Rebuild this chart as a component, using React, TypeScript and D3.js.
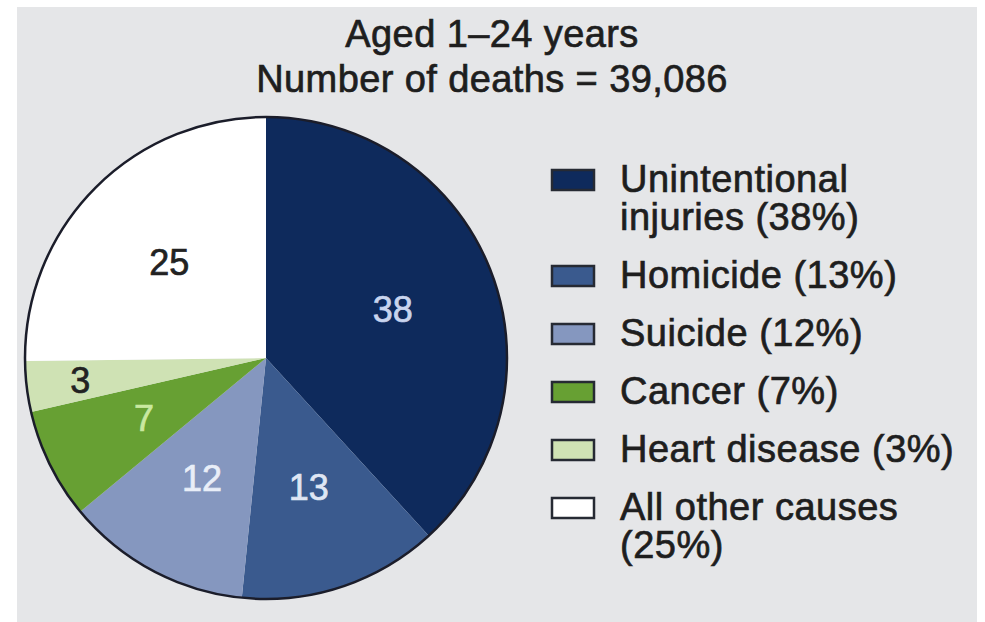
import React from 'react';
import * as d3 from 'd3';

const titleLines = ['Aged 1–24 years', 'Number of deaths = 39,086'];

const causes = ['Unintentional injuries', 'Homicide', 'Suicide', 'Cancer', 'Heart disease', 'All other causes'];
// shares of the circle
const shares = [38.2, 13.4, 12.4, 7.4, 3.4, 25.2];
// percentages as printed on the chart
const printed = [38, 13, 12, 7, 3, 25];
// legend wording, broken where the reference breaks it
const legendLines = [
  ['Unintentional', 'injuries (38%)'],
  ['Homicide (13%)'],
  ['Suicide (12%)'],
  ['Cancer (7%)'],
  ['Heart disease (3%)'],
  ['All other causes', '(25%)'],
];

const sliceColors = ['#0e2a5c', '#3a5a8e', '#8597bf', '#67a033', '#cfe2b4', '#ffffff'];
const labelColors = ['#c8d4ee', '#dfe6f4', '#e9eef8', '#c9e8a0', '#222222', '#222222'];

export default function App() {
  const width = 985;
  const height = 622;
  const cx = 266;
  const cy = 358;
  const radius = 241;
  const font = '"Liberation Sans", Arial, Helvetica, sans-serif';

  const color = d3.scaleOrdinal<string, string>().domain(causes).range(sliceColors);
  const labelColor = d3.scaleOrdinal<string, string>().domain(causes).range(labelColors);

  const rows = causes.map((cause, i) => ({ cause, share: shares[i], label: printed[i], i }));

  const pie = d3
    .pie<typeof rows[number]>()
    .sort(null)
    .value((d) => d.share);

  const arcs = pie(rows);

  const arc = d3.arc<d3.PieArcDatum<typeof rows[number]>>().innerRadius(0).outerRadius(radius);
  const labelArc = d3.arc<d3.PieArcDatum<typeof rows[number]>>().innerRadius(136 * 2).outerRadius(0);
  const smallLabelArc = d3.arc<d3.PieArcDatum<typeof rows[number]>>().innerRadius(187 * 2).outerRadius(0);

  // legend layout: 38px between lines, 20px extra between items
  const lineStep = 38;
  const itemGap = 20;
  let baseline = 192;
  const legend = legendLines.map((lines, i) => {
    const item = { cause: causes[i], lines, baseline };
    baseline += lines.length * lineStep + itemGap;
    return item;
  });

  const heavy = (c: string) => ({ fill: c, stroke: c, strokeWidth: 0.7 });

  return (
    <svg
      width={width}
      height={height}
      style={{ position: 'absolute', left: 0, top: 0, fontFamily: font }}
      xmlns="http://www.w3.org/2000/svg">
      <rect x={0} y={0} width={width} height={height} fill="#ffffff" />
      <rect x={17} y={7} width={960} height={height - 7} fill="#e5e6e8" />

      <g textAnchor="middle" fontSize={38} letterSpacing={0.4} {...heavy('#1e1e1e')}>
        {titleLines.map((t, i) => (
          <text key={t} x={492} y={47 + i * 45}>{t}</text>
        ))}
      </g>

      <g transform={`translate(${cx},${cy})`}>
        {arcs.map((d) => (
          <path key={d.data.cause} d={arc(d) || ''} fill={color(d.data.cause)} />
        ))}
        <circle r={radius} fill="none" stroke="#1b1d2a" strokeWidth={2.5} />
        {arcs.map((d) => {
          const [lx, ly] = (d.data.share < 5 ? smallLabelArc : labelArc).centroid(d);
          return (
            <text
              key={`label-${d.data.cause}`}
              x={lx}
              y={ly}
              dy="0.36em"
              textAnchor="middle"
              fontSize={36}
              {...heavy(labelColor(d.data.cause))}>
              {d.data.label}
            </text>
          );
        })}
      </g>

      <g>
        {legend.map((item) => (
          <g key={`legend-${item.cause}`}>
            <rect
              x={552}
              y={item.baseline - 22}
              width={42}
              height={20}
              fill={color(item.cause)}
              stroke="#262a33"
              strokeWidth={2.5} />
            <text x={620} y={item.baseline} fontSize={38} letterSpacing={0.5} {...heavy('#1e1e1e')}>
              {item.lines.map((line, j) => (
                <tspan key={line} x={620} dy={j === 0 ? 0 : lineStep}>{line}</tspan>
              ))}
            </text>
          </g>
        ))}
      </g>
    </svg>
  );
}
